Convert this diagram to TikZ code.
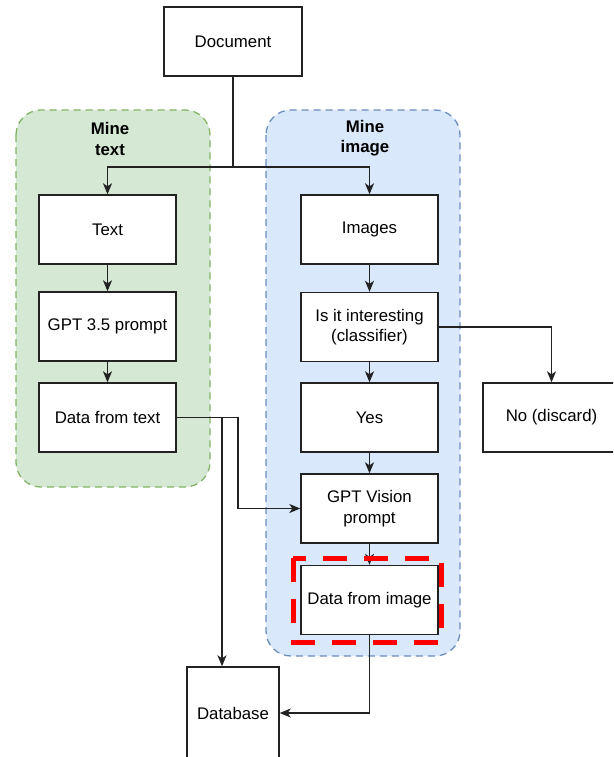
\documentclass[tikz,border=0pt]{standalone}
\usepackage{fontspec}
\setmainfont{Liberation Sans}
\usetikzlibrary{arrows.meta}
\definecolor{gfill}{HTML}{D5E8D4}
\definecolor{gline}{HTML}{82B366}
\definecolor{bfill}{HTML}{DAE8FC}
\definecolor{bline}{HTML}{6C8EBF}
\definecolor{ink}{HTML}{222222}
\tikzset{
  box/.style={draw=ink, line width=1.4pt, fill=white, minimum width=137pt, minimum height=69pt, inner sep=2pt, align=center, font=\fontsize{16.8}{20.5}\selectfont},
  group/.style={line width=1.3pt, dash pattern=on 7pt off 5pt, rounded corners=25pt},
  conn/.style={draw=ink, line width=1.4pt},
  arr/.style={conn, -{Stealth[length=11pt,width=9pt,inset=3pt]}},
  title/.style={font=\fontsize{16.8}{20.5}\selectfont\bfseries, align=center}
}
\begin{document}
\begin{tikzpicture}[x=1pt,y=-1pt]
\clip (0,0) rectangle (613,757);
\fill[white] (0,0) rectangle (613,757);
% containers
\draw[group, draw=gline, fill=gfill] (16,110) rectangle (210,487);
\draw[group, draw=bline, fill=bfill] (266,110) rectangle (460,656);
\node[title] (tgreen) at (110,139) {Mine\\text};
\node[title] (tblue) at (365,138) {Mine\\image};
% boxes
\node[box, minimum width=138pt] (doc) at (233,41.5) {Document};
\node[box] (text) at (107.5,229.5) {Text};
\node[box] (gpt) at (107.5,326.5) {GPT 3.5 prompt};
\node[box] (dtext) at (107.5,417.5) {Data from text};
\node[box] (images) at (369.5,229.5) {Images};
\node[box] (inter) at (369.5,327) {Is it interesting\\(classifier)};
\node[box] (yes) at (369.5,417.5) {Yes};
\node[box] (no) at (551.5,417.5) {No (discard)};
\node[box] (vision) at (369.5,508.5) {GPT Vision\\prompt};
\node[box] (dimage) at (369.5,600) {Data from image};
\node[box, minimum width=92pt, minimum height=92pt] (db) at (233,713) {Database};
% connectors
\coordinate (split) at (233,167);
\draw[conn] (doc.south) -- (split);
\draw[arr] (split) -| (text.north);
\draw[arr] (split) -| (images.north);
\draw[arr] (text) -- (gpt);
\draw[arr] (gpt) -- (dtext);
\draw[arr] (images) -- (inter);
\draw[arr] (inter) -- (yes);
\draw[arr] (yes) -- (vision);
\draw[arr] (vision) -- (dimage);
\draw[arr] (inter.east) -| (no.north);
\coordinate (bend1) at (238,417.5);
\coordinate (bend2) at (222,417.5);
\draw[arr] (dtext.east) -- (bend1) |- (vision.west);
\draw[arr] (dtext.east) -- (bend2) -- (bend2 |- db.north);
\draw[arr] (dimage.south) |- (db.east);
% highlight
\draw[red, line width=5pt, dash pattern=on 24pt off 17pt] (293,558) rectangle (441,642);
\end{tikzpicture}
\end{document}
